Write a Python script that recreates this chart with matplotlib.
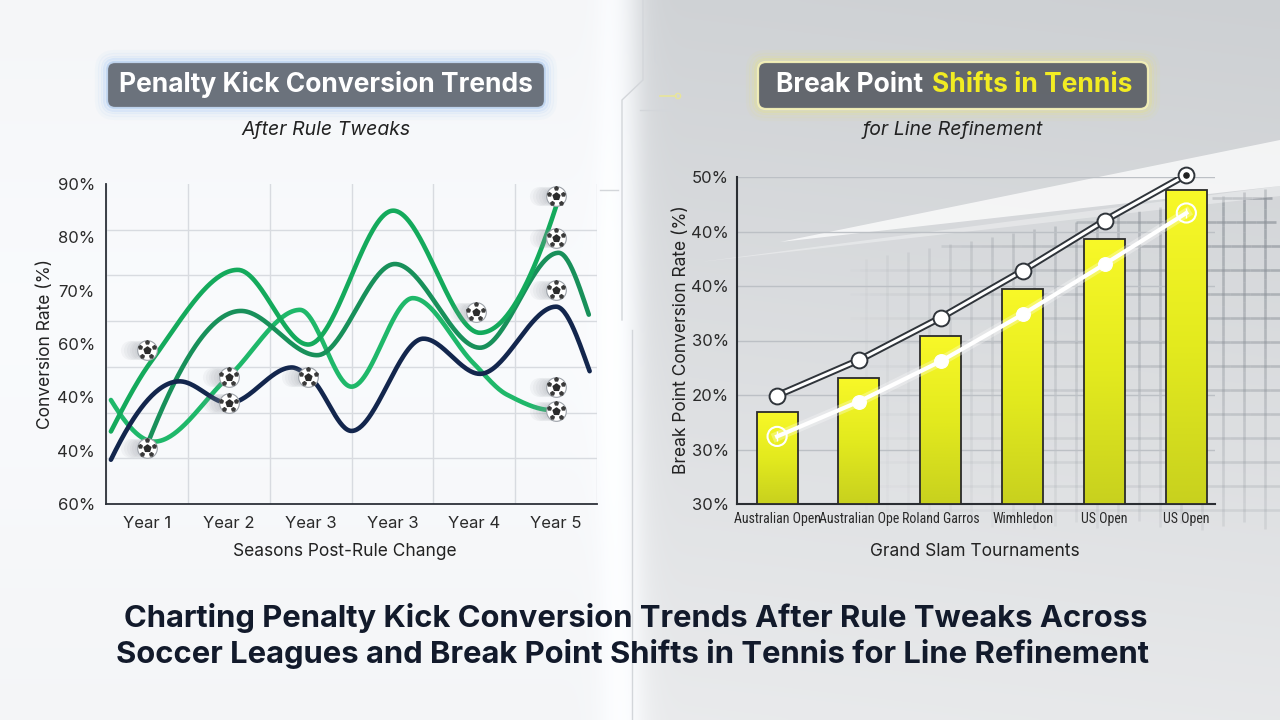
import numpy as np
import matplotlib
matplotlib.use("Agg")
import matplotlib.pyplot as plt
from matplotlib.patches import FancyBboxPatch, Polygon
from matplotlib.collections import LineCollection
from matplotlib.colors import LinearSegmentedColormap, to_rgba
import matplotlib.patheffects as pe
import matplotlib.transforms as mtransforms
from matplotlib import font_manager as fm

plt.rcParams['font.family'] = ['Inter', 'DejaVu Sans']

# ---------------- DATA ----------------
# Left chart: penalty-kick conversion curves (season position, rate)
year_labels = ["Year 1", "Year 2", "Year 3", "Year 3", "Year 4", "Year 5"]
left_ytick_values = [30, 40, 50, 60, 70, 80, 90]
left_ytick_labels = ["60%", "40%", "40%", "60%", "70%", "80%", "90%"]

league_top_season = [-0.44, 0.05, 1.11, 1.97, 3.01, 4.07, 5.0]
league_top_rate = [43.6, 56.7, 73.9, 59.9, 85.0, 62.1, 85.8]

league_mid_season = [0.0, 1.15, 2.08, 3.03, 4.07, 5.03, 5.40]
league_mid_rate = [41.0, 66.2, 57.9, 75.0, 59.3, 77.1, 65.5]

league_low_season = [-0.44, 0.09, 1.0, 1.87, 2.5, 3.25, 3.99, 4.40, 4.95]
league_low_rate = [49.5, 41.7, 53.9, 66.4, 52.0, 68.6, 56.4, 50.5, 47.6]

league_navy_season = [-0.44, 0.40, 1.0, 1.77, 2.0, 2.50, 3.38, 4.07, 5.0, 5.41]
league_navy_rate = [38.3, 53.0, 48.9, 55.6, 53.6, 43.7, 61.0, 54.4, 67.0, 54.9]

ball_season = [0, 0, 1, 1, 1.97, 4.02, 5, 5, 5, 5, 5]
ball_rate = [58.9, 40.5, 53.9, 48.9, 53.9, 66.0, 87.7, 79.9, 70.2, 52.0, 47.5]

# Right chart: break point conversion
tournaments = ["Australian Open", "Australian Ope", "Roland Garros", "Wimhledon", "US Open", "US Open"]
right_ytick_values = [20, 25, 30, 35, 40, 45, 50]
right_ytick_labels = ["30%", "30%", "20%", "30%", "40%", "40%", "50%"]
bar_rate = [28.4, 31.6, 35.4, 39.7, 44.3, 48.8]
upper_line_rate = [29.95, 33.2, 37.1, 41.4, 46.0, 50.2]
lower_line_rate = [26.2, 29.4, 33.1, 37.4, 42.0, 46.7]

# ---------------- helpers ----------------
def pchip(x, y, xs):
    x = np.asarray(x, float); y = np.asarray(y, float)
    h = np.diff(x); d = np.diff(y) / h
    m = np.zeros_like(y)
    for k in range(1, len(x) - 1):
        if d[k - 1] * d[k] > 0:
            w1 = 2 * h[k] + h[k - 1]; w2 = h[k] + 2 * h[k - 1]
            m[k] = (w1 + w2) / (w1 / d[k - 1] + w2 / d[k])
    def end(h0, h1, d0, d1):
        mm = ((2 * h0 + h1) * d0 - h0 * d1) / (h0 + h1)
        if np.sign(mm) != np.sign(d0):
            mm = 0.0
        elif np.sign(d0) != np.sign(d1) and abs(mm) > abs(3 * d0):
            mm = 3 * d0
        return mm
    m[0] = end(h[0], h[1], d[0], d[1])
    m[-1] = end(h[-1], h[-2], d[-1], d[-2])
    idx = np.clip(np.searchsorted(x, xs) - 1, 0, len(h) - 1)
    t = (xs - x[idx]) / h[idx]
    h00 = 2 * t**3 - 3 * t**2 + 1; h10 = t**3 - 2 * t**2 + t
    h01 = -2 * t**3 + 3 * t**2; h11 = t**3 - t**2
    return h00 * y[idx] + h10 * h[idx] * m[idx] + h01 * y[idx + 1] + h11 * h[idx] * m[idx + 1]

italic_family = 'DejaVu Sans'
for cand in ['Inter', 'Roboto', 'Open Sans', 'Lato', 'Noto Sans']:
    if any(f.name == cand and f.style == 'italic' for f in fm.fontManager.ttflist):
        italic_family = cand
        break

# a narrow face for the crowded tournament labels, if one is installed
narrow_prop = None
narrow_size = 8.6
_cands = []
for f in fm.fontManager.ttflist:
    nm = f.name
    is_narrow = ('Narrow' in nm) or ('Condensed' in nm) or (f.stretch in ('condensed', 'semi-condensed'))
    if is_narrow and f.style == 'normal' and str(f.weight) in ('400', 'normal', 'regular', 'book'):
        score = 0 if 'Liberation' in nm else (1 if 'Roboto' in nm else (2 if 'Noto Sans' in nm else 3))
        if 'Semi' in nm or f.stretch == 'semi-condensed':
            score += 0.5
        if 'Extra' in nm or 'Ultra' in nm:
            score += 5
        _cands.append((score, f.fname))
if _cands:
    _cands.sort()
    narrow_prop = fm.FontProperties(fname=_cands[0][1])
    narrow_size = 10.0

# ---------------- figure / background ----------------
fig = plt.figure(figsize=(12.8, 7.2), dpi=100)
bg = fig.add_axes([0, 0, 1, 1])
bg.set_zorder(-5)
bg.axis('off')

H, W = 180, 320
xx = np.linspace(0, 1, W)[None, :, None]
yy = np.linspace(0, 1, H)[:, None, None]
left_col = np.array([0.957, 0.962, 0.970])[None, None, :] * np.ones((H, W, 1))
left_col = left_col + 0.02 * np.exp(-((yy - 0.45) / 0.35) ** 2)
right_top = np.array([0.815, 0.826, 0.838])
right_bot = np.array([0.915, 0.920, 0.927])
right_col = right_top * (1 - yy) + right_bot * yy
right_col = right_col - 0.02 * (xx - 0.5)
tt = np.clip((xx - 0.47) / 0.04, 0, 1)
tt = tt * tt * (3 - 2 * tt)
img = left_col * (1 - tt) + right_col * tt
img = img + 0.05 * np.exp(-((xx - 0.49) / 0.018) ** 2)
img = np.clip(img, 0, 1)
bg.imshow(img, extent=[0, 1280, 720, 0], aspect='auto', zorder=0, interpolation='bicubic')
bg.set_xlim(0, 1280); bg.set_ylim(720, 0)

# tennis net decoration
def net_top(x):
    return 262 - (x - 850) * (76 / 430)
segs, cols = [], []
base = np.array(to_rgba('#8c9299'))
def net_alpha(x, y):
    return 0.75 * np.clip((x - 840) / 440, 0, 1) ** 0.8 * np.clip(1 - 0.8 * (y - 180) / 360, 0, 1)
for xv in np.arange(866, 1281, 21):
    ys = np.arange(net_top(xv), 530, 10)
    for y0, y1 in zip(ys[:-1], ys[1:]):
        segs.append([(xv, y0), (xv, y1)]); c = base.copy(); c[3] = net_alpha(xv, y0); cols.append(c)
for yh in np.arange(198, 531, 24):
    x_start = max(850, 850 + (262 - yh) * 430 / 76)
    xs_ = np.arange(x_start, 1281, 10)
    for x0, x1 in zip(xs_[:-1], xs_[1:]):
        segs.append([(x0, yh), (x1, yh)]); c = base.copy(); c[3] = net_alpha(x0, yh); cols.append(c)
bg.add_collection(LineCollection(segs, colors=cols, linewidths=1.9, zorder=1))
bg.add_patch(Polygon([(780, 242), (1280, 140), (1280, 186)], closed=True,
                     facecolor='white', edgecolor='none', alpha=0.75, zorder=2))
bg.add_patch(Polygon([(700, 262), (1280, 186), (1280, 196)], closed=True,
                     facecolor='white', edgecolor='none', alpha=0.35, zorder=2))

# divider / circuit decoration
circ = [[(643, 0), (643, 80), (622, 100), (622, 320)],
        [(632, 330), (632, 720)],
        [(655, 0), (655, 60), (668, 75), (668, 96)],
        [(640, 110), (672, 110)],
        [(600, 190), (618, 190)]]
for c in circ:
    c = np.array(c)
    bg.plot(c[:, 0], c[:, 1], color='#d3d6da', lw=1.0, zorder=1)
bg.plot([660, 676], [96, 96], color='#e8e59a', lw=1.2, zorder=1)
bg.scatter([678], [96], s=14, facecolor='none', edgecolor='#e8e59a', lw=1, zorder=1)

# ---------------- title boxes ----------------
def title_box(x, y, w, h, face, edge, glow):
    for k, a in [(10, 0.05), (7, 0.08), (4, 0.12), (2, 0.18)]:
        bg.add_patch(FancyBboxPatch((x - k, y - k), w + 2 * k, h + 2 * k,
                                    boxstyle='round,pad=0,rounding_size=%d' % (8 + k),
                                    facecolor='none', edgecolor=glow, lw=3, alpha=a, zorder=3))
    bg.add_patch(FancyBboxPatch((x, y), w, h, boxstyle='round,pad=0,rounding_size=8',
                                facecolor=face, edgecolor=edge, lw=1.6, zorder=4, alpha=0.95))

title_box(107, 62, 438, 46, '#646b75', '#c3d8f2', '#8fbdf5')
title_box(758, 62, 390, 47, '#5d6168', '#f4f1b8', '#f1e85a')

bg.text(326, 92, 'Penalty Kick Conversion Trends', color='white', fontsize=19,
        fontweight='bold', ha='center', va='baseline', zorder=5)
renderer = fig.canvas.get_renderer()
t1 = bg.text(0, 92.5, 'Break Point', color='white', fontsize=19, fontweight='bold',
             ha='right', va='baseline', zorder=5)
t2 = bg.text(0, 92.5, 'Shifts in Tennis', color='#f2ec22', fontsize=19, fontweight='bold',
             ha='left', va='baseline', zorder=5)
w1 = t1.get_window_extent(renderer).width
w2 = t2.get_window_extent(renderer).width
gap = 9
x0 = 954 - (w1 + gap + w2) / 2 + w1
t1.set_x(x0); t2.set_x(x0 + gap)

bg.text(326, 135, 'After Rule Tweaks', fontsize=14, style='italic', family=italic_family,
        color='#222222', ha='center', va='baseline', zorder=5)
bg.text(953, 135, 'for Line Refinement', fontsize=14, style='italic', family=italic_family,
        color='#222222', ha='center', va='baseline', zorder=5)

bg.text(636, 627, 'Charting Penalty Kick Conversion Trends After Rule Tweaks Across',
        fontsize=22.3, fontweight='bold', color='#121a2b', ha='center', va='baseline', zorder=5)
bg.text(633, 663, 'Soccer Leagues and Break Point Shifts in Tennis for Line Refinement',
        fontsize=22.3, fontweight='bold', color='#121a2b', ha='center', va='baseline', zorder=5)

# axis labels
bg.text(46, 344, 'Conversion Rate (%)', rotation=90, fontsize=12.5, color='#222222',
        ha='center', va='center', zorder=5)
bg.text(345, 552, 'Seasons Post-Rule Change', fontsize=12.5, color='#222222',
        ha='center', va='center', zorder=5)
bg.text(681, 340, 'Break Point Conversion Rate (%)', rotation=90, fontsize=12.5, color='#222222',
        ha='center', va='center', zorder=5)
bg.text(975, 551, 'Grand Slam Tournaments', fontsize=12.5, color='#222222',
        ha='center', va='center', zorder=5)

# ---------------- left chart ----------------
axL = fig.add_axes([106 / 1280, 1 - 504 / 720, (597 - 106) / 1280, (504 - 184) / 720])
axL.set_facecolor('none')
axL.set_xlim(-0.5, 5.5); axL.set_ylim(30, 90)
for s in ['top', 'right']:
    axL.spines[s].set_visible(False)
for s in ['left', 'bottom']:
    axL.spines[s].set_color('#2d3139'); axL.spines[s].set_linewidth(1.3)
axL.set_xticks(range(len(year_labels)))
axL.set_xticklabels(year_labels, fontsize=12, color='#2a2a2a')
axL.set_yticks(left_ytick_values)
axL.set_yticklabels(left_ytick_labels, fontsize=12, color='#2a2a2a')
axL.set_xticks(np.arange(-0.5, 5.51, 1), minor=True)
axL.set_yticks(np.linspace(30, 90, 8), minor=True)
axL.grid(which='minor', color='#d8dbe0', lw=1.0)
axL.grid(which='major', visible=False)
axL.tick_params(which='both', length=0)
axL.tick_params(axis='x', pad=9)
axL.tick_params(axis='y', pad=8)
axL.set_axisbelow(True)

series = [
    (league_low_season, league_low_rate, '#1fb86a'),
    (league_mid_season, league_mid_rate, '#18905a'),
    (league_top_season, league_top_rate, '#14aa5c'),
    (league_navy_season, league_navy_rate, '#13264d'),
]
for sx, sy, col in series:
    xs = np.linspace(sx[0], sx[-1], 400)
    axL.plot(xs, pchip(sx, sy, xs), color=col, lw=3.3, solid_capstyle='round', zorder=3)

# soccer balls
for k in range(1, 7):
    tr = mtransforms.offset_copy(axL.transData, fig=fig, x=-2.0 * k, y=0, units='points')
    axL.scatter(ball_season, ball_rate, s=190, c='#8d939b', alpha=0.07, linewidths=0,
                transform=tr, zorder=4, clip_on=False)
axL.scatter(ball_season, ball_rate, s=200, c='white', edgecolors='#9ca1a8', linewidths=0.8,
            zorder=6, clip_on=False)
axL.scatter(ball_season, ball_rate, s=26, marker='p', c='#2b2b2b', zorder=7, clip_on=False)
for ang in np.deg2rad(np.arange(90, 450, 72)):
    tr = mtransforms.offset_copy(axL.transData, fig=fig, x=5.6 * np.cos(ang),
                                 y=5.6 * np.sin(ang), units='points')
    axL.scatter(ball_season, ball_rate, s=7, marker='p', c='#3a3a3a', transform=tr,
                zorder=7, clip_on=False)

# ---------------- right chart ----------------
axR = fig.add_axes([737 / 1280, 1 - 504 / 720, (1215 - 737) / 1280, (504 - 177) / 720])
axR.set_facecolor('none')
xpos = np.arange(len(tournaments))
ymin = right_ytick_values[0]
bars = axR.bar(xpos, np.array(bar_rate) - ymin, bottom=ymin, width=0.5,
               facecolor='none', edgecolor='#2b2b2b', lw=1.3, zorder=4)
ycmap = LinearSegmentedColormap.from_list('yel', ['#c8d11e', '#e3ea1e', '#f8f828'])
grad = np.linspace(0, 1, 256)[:, None]
for b in bars:
    x_, y_ = b.get_x(), b.get_y()
    im = axR.imshow(grad, extent=[x_, x_ + b.get_width(), y_, y_ + b.get_height()],
                    origin='lower', aspect='auto', cmap=ycmap, zorder=3)
    im.set_clip_path(b)
axR.set_xlim(-0.49, 5.35); axR.set_ylim(20, 50)
axR.set_xticks(xpos)
if narrow_prop is not None:
    axR.set_xticklabels(tournaments, color='#2a2a2a', fontproperties=narrow_prop)
    for lab in axR.get_xticklabels():
        lab.set_fontsize(narrow_size)
else:
    axR.set_xticklabels(tournaments, fontsize=narrow_size, color='#2a2a2a',
                        family=['Roboto', 'DejaVu Sans'])
axR.set_yticks(right_ytick_values)
axR.set_yticklabels(right_ytick_labels, fontsize=12, color='#2a2a2a')
axR.tick_params(which='both', length=0)
axR.tick_params(axis='x', pad=6)
axR.tick_params(axis='y', pad=6)
axR.yaxis.grid(True, color='#bcc0c5', lw=1.0)
axR.set_axisbelow(True)
for s in ['top', 'right']:
    axR.spines[s].set_visible(False)
for s in ['left', 'bottom']:
    axR.spines[s].set_color('#2a2e33'); axR.spines[s].set_linewidth(1.5)

axR.plot(xpos, upper_line_rate, color='white', lw=2.2, zorder=6,
         path_effects=[pe.Stroke(linewidth=5, foreground='#2f343a'), pe.Normal()])
axR.scatter(xpos, upper_line_rate, s=130, c='white', edgecolors='#2f343a', linewidths=1.4,
            zorder=7, clip_on=False)
axR.scatter(xpos[-1:], upper_line_rate[-1:], s=14, c='#222222', zorder=8, clip_on=False)

axR.plot(xpos, lower_line_rate, color='white', lw=3, zorder=6,
         path_effects=[pe.Stroke(linewidth=7, foreground='white', alpha=0.3), pe.Normal()])
axR.scatter(xpos[1:-1], lower_line_rate[1:-1], s=95, c='white', edgecolors='white',
            zorder=7)
axR.scatter(xpos[[0, -1]], np.array(lower_line_rate)[[0, -1]], s=190, facecolor='none',
            edgecolors='white', linewidths=1.5, zorder=7)
axR.scatter(xpos[[0, -1]], np.array(lower_line_rate)[[0, -1]], s=60, marker='|',
            c='white', linewidths=1.0, zorder=7)

fig.savefig('out.png', dpi=100)
